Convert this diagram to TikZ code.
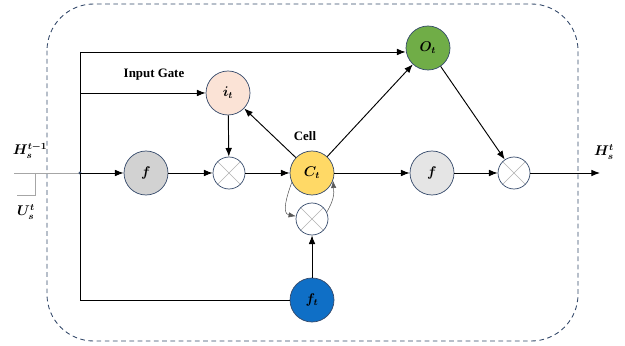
\documentclass[tikz,border=0pt]{standalone}
\usepackage{fontspec}
\usepackage{bm}
\setmainfont{Liberation Serif}
\usetikzlibrary{arrows.meta}
\definecolor{rimblue}{HTML}{34496A}
\definecolor{gatepink}{HTML}{FBE3D6}
\definecolor{cellgold}{HTML}{FFD966}
\definecolor{outgreen}{HTML}{70AD47}
\definecolor{forgetblue}{HTML}{0F6FC6}
\tikzset{
  gate/.style={circle,draw=rimblue,line width=0.6pt,minimum size=1.32cm,inner sep=0pt,font=\large},
  mult/.style={circle,draw=rimblue,line width=0.6pt,fill=white,minimum size=0.96cm,inner sep=0pt,
    path picture={\draw[gray!60,line width=0.5pt]
      (path picture bounding box.north west)--(path picture bounding box.south east)
      (path picture bounding box.north east)--(path picture bounding box.south west);}},
  flow/.style={line width=0.8pt,-{Latex[length=2.6mm,width=2mm]}},
  wire/.style={line width=0.8pt},
  loop/.style={gray!70!black,line width=0.45pt,-{Latex[length=2.2mm,width=1.6mm]}},
  lbl/.style={font=\bfseries\fontsize{11}{13}\selectfont}
}
\begin{document}
\begin{tikzpicture}[x=0.03cm,y=-0.03cm]
  \useasboundingbox (0,0) rectangle (625,346);
  \draw[rimblue,dash pattern=on 4pt off 3pt,line width=0.75pt,rounded corners=1.4cm] (47,4) rectangle (578,341);

  % gates
  \node[gate,fill=gray!35] (fa) at (146,173) {$\bm{f}$};
  \node[mult] (m1) at (229,173) {};
  \node[gate,fill=gatepink] (it) at (228,93) {$\bm{i_t}$};
  \node[gate,fill=cellgold] (ct) at (312,173) {$\bm{C_t}$};
  \node[gate,fill=outgreen] (ot) at (428,48) {$\bm{O_t}$};
  \node[gate,fill=gray!20] (fb) at (432,173) {$\bm{f}$};
  \node[mult] (m2) at (514,173) {};
  \node[mult] (m3) at (312,219) {};
  \node[gate,fill=forgetblue] (ft) at (312,300) {$\bm{f_t}$};

  % labels
  \node[lbl] (ig) at (154,75) {Input Gate};
  \node[lbl] (cl) at (305,136) {Cell};
  \node[font=\large] (hin) at (30,151) {$\bm{H_s^{t-1}}$};
  \node[font=\large] (uin) at (26,212) {$\bm{U_s^{t}}$};
  \node[font=\large] (hout) at (604,152) {$\bm{H_s^{t}}$};

  % input side
  \coordinate (src) at (14,173);
  \coordinate (jn) at (80,173);
  \coordinate (tl) at (80,52);
  \coordinate (ml) at (80,93);
  \coordinate (bl) at (80,300);
  \coordinate (out) at (600,173);
  \draw[gray!70,line width=0.8pt] (src) -- (jn);
  \draw[gray!70,line width=0.6pt] (35,173) -- (35,195) -- (17,195);
  \draw[wire] (tl) -- (bl) -- (ft);
  \fill[rimblue] (jn) circle (1.6);
  \draw[flow] (tl) -- (tl -| ot.west);
  \draw[flow] (ml) -- (it);
  \draw[flow] (jn) -- (fa);

  % cell
  \draw[flow] (fa) -- (m1);
  \draw[flow] (it) -- (m1);
  \draw[flow] (m1) -- (ct);
  \draw[flow] (ct) -- (it);
  \draw[flow] (ct) -- (ot);
  \draw[flow] (ct) -- (fb);
  \draw[flow] (fb) -- (m2);
  \draw[flow] (ot) -- (m2);
  \draw[flow] (m2) -- (out);
  \draw[flow] (ft) -- (m3);
  \draw[loop] (ct.205) to[out=250,in=170,looseness=1.1] (m3.170);
  \draw[loop] (m3.25) to[out=60,in=-85,looseness=1.1] (ct.-20);
\end{tikzpicture}
\end{document}
